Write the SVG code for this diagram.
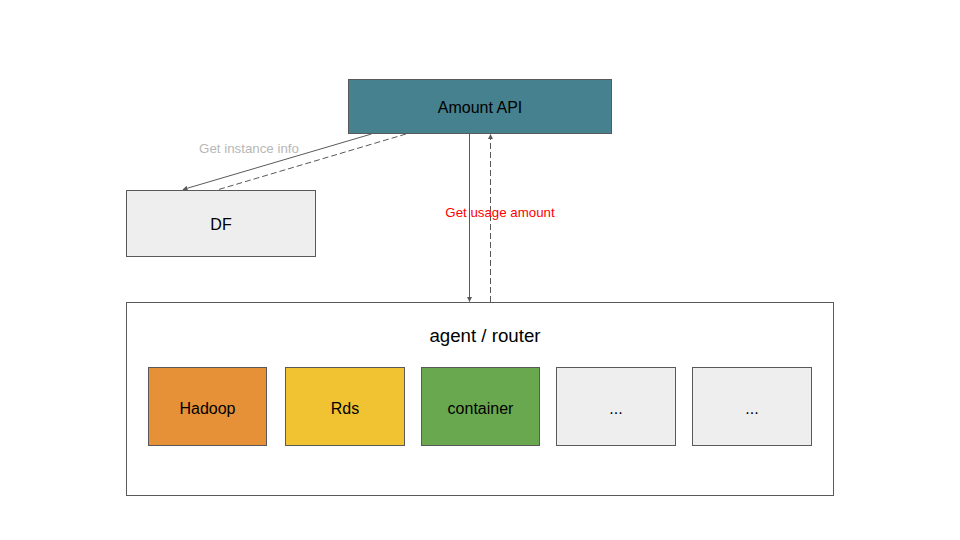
<svg xmlns="http://www.w3.org/2000/svg" width="960" height="540" viewBox="0 0 960 540">
<style>
.box{stroke:#595959;stroke-width:1}
.t{font-family:"Liberation Sans",Arial,sans-serif;fill:#000;text-anchor:middle;dominant-baseline:central}
.c{stroke:#595959;stroke-width:1;fill:none}
.d{stroke-dasharray:6,3}
.lbl{font-family:"Liberation Sans",Arial,sans-serif;font-size:13.3px;text-anchor:middle;dominant-baseline:central}
</style>
<defs>
<marker id="ah" viewBox="0 0 10 10" refX="9" refY="5" markerWidth="5" markerHeight="5" markerUnits="userSpaceOnUse" orient="auto">
<path d="M0,0 L10,5 L0,10 z" fill="#595959"/>
</marker>
</defs>
<rect width="960" height="540" fill="#fff"/>
<g id="amount-api">
<rect class="box" x="348.5" y="79.5" width="263" height="54" fill="#45818e"/>
<text class="t" x="480" y="107" font-size="16">Amount API</text>
</g>
<g id="df">
<rect class="box" x="126.5" y="190.5" width="189" height="66" fill="#eeeeee"/>
<text class="t" x="221" y="224.5" font-size="16">DF</text>
</g>
<g id="agent-router">
<rect class="box" x="126.5" y="302.5" width="707" height="193" fill="#ffffff"/>
<text class="t" x="485" y="335" font-size="18.7">agent / router</text>
</g>
<g id="hadoop">
<rect class="box" x="148.5" y="367.5" width="118" height="78" fill="#e69138"/>
<text class="t" x="207.5" y="408" font-size="16">Hadoop</text>
</g>
<g id="rds">
<rect class="box" x="285.5" y="367.5" width="119" height="78" fill="#f1c232"/>
<text class="t" x="345" y="408" font-size="16">Rds</text>
</g>
<g id="container">
<rect class="box" x="421.5" y="367.5" width="118" height="78" fill="#6aa84f"/>
<text class="t" x="480.5" y="408" font-size="16">container</text>
</g>
<g id="more1">
<rect class="box" x="556.5" y="367.5" width="119" height="78" fill="#eeeeee"/>
<text class="t" x="616" y="408" font-size="16">...</text>
</g>
<g id="more2">
<rect class="box" x="692.5" y="367.5" width="119" height="78" fill="#eeeeee"/>
<text class="t" x="752" y="408" font-size="16">...</text>
</g>
<g id="connectors">
<line class="c" x1="371.5" y1="134" x2="183" y2="189.5" marker-end="url(#ah)"/>
<line class="c d" x1="406" y1="134" x2="217" y2="190"/>
<line class="c" x1="469.5" y1="134" x2="469.5" y2="301.5" marker-end="url(#ah)"/>
<line class="c d" x1="490.5" y1="302" x2="490.5" y2="134.5" marker-end="url(#ah)"/>
<text class="lbl" x="249" y="148.5" fill="#b7b7b7">Get instance info</text>
<text class="lbl" x="500" y="212.5" fill="#ff0000">Get usage amount</text>
</g>
</svg>
